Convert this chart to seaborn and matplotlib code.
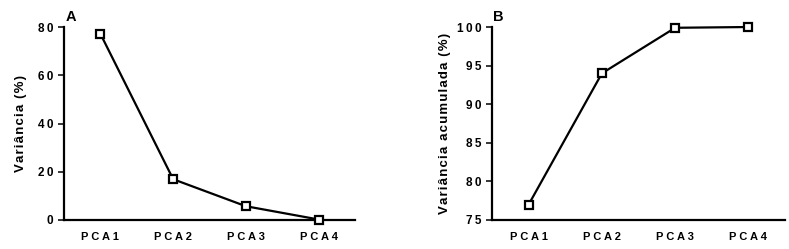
import numpy as np
import pandas as pd
import seaborn as sns
import matplotlib.pyplot as plt

# data
components = ['PCA1', 'PCA2', 'PCA3', 'PCA4']
variance = [77.2, 16.9, 5.7, 0.2]
cumulative = [77.0, 94.0, 99.9, 100.0]
ylabels = ['Variância (%)', 'Variância acumulada (%)']

df = pd.DataFrame({'component': components, 'variance': variance,
                   'cumulative': cumulative})

sns.set_style('ticks')
plt.rcParams['font.family'] = ['Liberation Sans', 'DejaVu Sans']
plt.rcParams['font.weight'] = 'bold'
plt.rcParams['text.color'] = 'black'

fig = plt.figure(figsize=(7.89, 2.49), dpi=100)
ax_a = fig.add_axes([0.0811, 0.1165, 0.369, 0.775])
ax_b = fig.add_axes([0.6236, 0.1165, 0.3714, 0.775])

# fake letter spacing with thin spaces
def spaced(s, sep='\u2009'):
    return sep.join(s)

panels = [(ax_a, 'variance', 'A', (0, 80), np.arange(0, 81, 20), ylabels[0], 8),
          (ax_b, 'cumulative', 'B', (75, 100), np.arange(75, 101, 5), ylabels[1], 4)]

for ax, col, tag, ylim, yticks, ylabel, lpad in panels:
    sns.lineplot(data=df, x='component', y=col, ax=ax, color='black', lw=1.6,
                 marker='s', markersize=6, markerfacecolor='white',
                 markeredgecolor='black', markeredgewidth=1.6, clip_on=False, zorder=3)
    ax.set_xlim(-0.5, 3.5)
    ax.set_ylim(*ylim)
    ax.set_yticks(yticks)
    ax.set_yticklabels([spaced(str(t)) for t in yticks], fontsize=8.5,
                       fontweight='bold', color='black')
    ax.set_xticks(range(len(components)))
    ax.set_xticklabels([spaced(c, ' ') for c in components], fontsize=8,
                       fontweight='bold', color='black')
    ax.tick_params(axis='x', length=0, pad=9)
    ax.tick_params(axis='y', length=4.5, width=1.3, pad=3, direction='out')
    ax.set_xlabel('')
    ax.set_ylabel(spaced(ylabel, '\u200a'), fontsize=9.5, fontweight='bold',
                  labelpad=lpad, color='black')
    for s in ['left', 'bottom']:
        ax.spines[s].set_linewidth(1.6)
        ax.spines[s].set_color('black')
    sns.despine(ax=ax)
    ax.text(0.005, 1.05, tag, transform=ax.transAxes, fontsize=10.5,
            fontweight='bold', ha='left', va='center', color='black')

fig.savefig('out.png', dpi=100)
